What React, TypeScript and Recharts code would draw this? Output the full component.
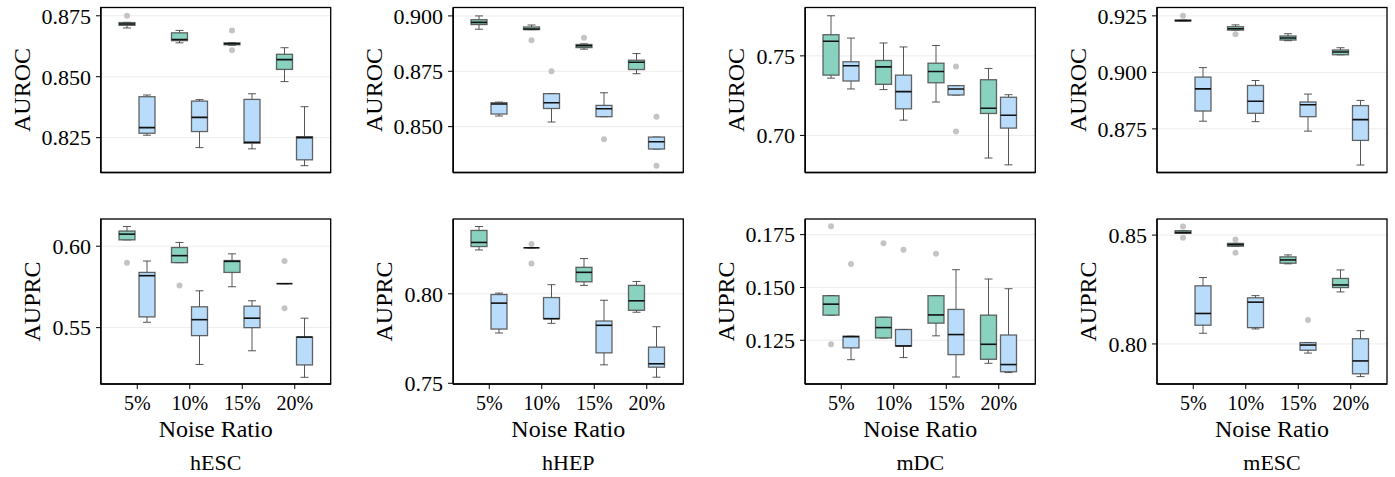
import {
  ComposedChart, Bar, XAxis, YAxis, CartesianGrid,
} from 'recharts';

type Box = number[]; // [whisker low, q1, median, q3, whisker high]

const FONT = '"Liberation Serif", "Times New Roman", serif';
const TEAL = '#89D2C0';
const BLUE = '#B9DCFA';

const categories = ['5%', '10%', '15%', '20%'];
const datasets = ['hESC', 'hHEP', 'mDC', 'mESC'];

// hESC
const hescAurocTeal: Box[] = [[0.8700, 0.8711, 0.8716, 0.8722, 0.8723], [0.8639, 0.8648, 0.8653, 0.8680, 0.8690], [0.8629, 0.8631, 0.8635, 0.8639, 0.8640], [0.8480, 0.8530, 0.8570, 0.8592, 0.8619]];
const hescAurocTealOut = [[0.8750], [], [0.8690, 0.8609], []];
const hescAurocBlue: Box[] = [[0.8260, 0.8268, 0.8291, 0.8418, 0.8425], [0.8209, 0.8275, 0.8333, 0.8400, 0.8406], [0.8204, 0.8227, 0.8231, 0.8407, 0.8430], [0.8135, 0.8159, 0.8250, 0.8254, 0.8377]];
const hescAurocBlueOut = [[], [], [], []];
const hescAuprcTeal: Box[] = [[0.6039, 0.6039, 0.6074, 0.6093, 0.6121], [0.5899, 0.5899, 0.5942, 0.5992, 0.6023], [0.5751, 0.5839, 0.5907, 0.5912, 0.5953], [0.5770, 0.5770, 0.5770, 0.5770, 0.5770]];
const hescAuprcTealOut = [[0.5899], [0.5759], [], [0.5909, 0.5619]];
const hescAuprcBlue: Box[] = [[0.5533, 0.5566, 0.5819, 0.5839, 0.5909], [0.5274, 0.5451, 0.5549, 0.5628, 0.5726], [0.5358, 0.5500, 0.5558, 0.5632, 0.5665], [0.5195, 0.5271, 0.5442, 0.5442, 0.5558]];
const hescAuprcBlueOut = [[], [], [], []];

// hHEP
const hhepAurocTeal: Box[] = [[0.8940, 0.8961, 0.8971, 0.8983, 0.9000], [0.8938, 0.8938, 0.8941, 0.8950, 0.8959], [0.8850, 0.8857, 0.8865, 0.8871, 0.8874], [0.8739, 0.8758, 0.8791, 0.8800, 0.8830]];
const hhepAurocTealOut = [[], [0.8890], [0.8901], []];
const hhepAurocBlue: Box[] = [[0.8548, 0.8557, 0.8602, 0.8608, 0.8611], [0.8521, 0.8582, 0.8608, 0.8649, 0.8649], [0.8545, 0.8545, 0.8581, 0.8596, 0.8653], [0.8399, 0.8399, 0.8432, 0.8453, 0.8453]];
const hhepAurocBlueOut = [[], [0.8750], [0.8443], [0.8545, 0.8324]];
const hhepAuprcTeal: Box[] = [[0.8245, 0.8264, 0.8287, 0.8354, 0.8376], [0.8257, 0.8257, 0.8257, 0.8257, 0.8257], [0.8047, 0.8067, 0.8120, 0.8148, 0.8197], [0.7897, 0.7908, 0.7961, 0.8047, 0.8069]];
const hhepAuprcTealOut = [[], [0.8279, 0.8169], [], []];
const hhepAuprcBlue: Box[] = [[0.7781, 0.7803, 0.7948, 0.7996, 0.8004], [0.7835, 0.7861, 0.7861, 0.7979, 0.8051], [0.7603, 0.7670, 0.7824, 0.7848, 0.7964], [0.7534, 0.7590, 0.7609, 0.7702, 0.7816]];
const hhepAuprcBlueOut = [[], [], [], []];

// mDC
const mdcAurocTeal: Box[] = [[0.7360, 0.7379, 0.7592, 0.7633, 0.7752], [0.7288, 0.7321, 0.7431, 0.7471, 0.7581], [0.7210, 0.7331, 0.7402, 0.7454, 0.7565], [0.6858, 0.7138, 0.7171, 0.7350, 0.7421]];
const mdcAurocTealOut = [[], [], [], []];
const mdcAurocBlue: Box[] = [[0.7292, 0.7342, 0.7438, 0.7463, 0.7612], [0.7096, 0.7167, 0.7275, 0.7379, 0.7556], [0.7254, 0.7254, 0.7292, 0.7313, 0.7313], [0.6815, 0.7046, 0.7127, 0.7240, 0.7256]];
const mdcAurocBlueOut = [[], [], [0.7433, 0.7025], []];
const mdcAuprcTeal: Box[] = [[0.1369, 0.1369, 0.1421, 0.1461, 0.1461], [0.1261, 0.1261, 0.1310, 0.1359, 0.1359], [0.1271, 0.1331, 0.1370, 0.1461, 0.1461], [0.1141, 0.1160, 0.1231, 0.1369, 0.1540]];
const mdcAuprcTealOut = [[0.1790, 0.1231], [0.1709], [0.1660], []];
const mdcAuprcBlue: Box[] = [[0.1158, 0.1214, 0.1267, 0.1269, 0.1269], [0.1168, 0.1223, 0.1223, 0.1301, 0.1301], [0.1076, 0.1182, 0.1277, 0.1396, 0.1584], [0.1097, 0.1101, 0.1135, 0.1275, 0.1494]];
const mdcAuprcBlueOut = [[0.1611], [0.1679], [], []];

// mESC
const mescAurocTeal: Box[] = [[0.9228, 0.9228, 0.9229, 0.9231, 0.9231], [0.9187, 0.9187, 0.9193, 0.9202, 0.9210], [0.9140, 0.9143, 0.9152, 0.9161, 0.9171], [0.9078, 0.9078, 0.9090, 0.9099, 0.9109]];
const mescAurocTealOut = [[0.9250], [0.9169], [], []];
const mescAurocBlue: Box[] = [[0.8784, 0.8829, 0.8927, 0.8979, 0.9021], [0.8782, 0.8819, 0.8872, 0.8942, 0.8964], [0.8740, 0.8804, 0.8857, 0.8869, 0.8904], [0.8590, 0.8699, 0.8791, 0.8853, 0.8876]];
const mescAurocBlueOut = [[], [], [], []];
const mescAuprcTeal: Box[] = [[0.8508, 0.8508, 0.8512, 0.8520, 0.8520], [0.8449, 0.8449, 0.8456, 0.8462, 0.8462], [0.8368, 0.8371, 0.8386, 0.8400, 0.8409], [0.8239, 0.8259, 0.8271, 0.8301, 0.8340]];
const mescAuprcTealOut = [[0.8540, 0.8488], [0.8480, 0.8419], [], []];
const mescAuprcBlue: Box[] = [[0.8049, 0.8086, 0.8140, 0.8267, 0.8305], [0.8069, 0.8075, 0.8192, 0.8212, 0.8222], [0.7958, 0.7971, 0.7995, 0.8006, 0.8006], [0.7850, 0.7863, 0.7922, 0.8024, 0.8061]];
const mescAuprcBlueOut = [[], [], [0.8110], []];

const panels = [
  { metric: 'AUROC', teal: hescAurocTeal, tealOut: hescAurocTealOut, blue: hescAurocBlue, blueOut: hescAurocBlueOut, domain: [0.8107, 0.8784], ticks: [0.825, 0.85, 0.875], dec: 3 },
  { metric: 'AUROC', teal: hhepAurocTeal, tealOut: hhepAurocTealOut, blue: hhepAurocBlue, blueOut: hhepAurocBlueOut, domain: [0.8293, 0.9038], ticks: [0.85, 0.875, 0.9], dec: 3 },
  { metric: 'AUROC', teal: mdcAurocTeal, tealOut: mdcAurocTealOut, blue: mdcAurocBlue, blueOut: mdcAurocBlueOut, domain: [0.6767, 0.7804], ticks: [0.7, 0.75], dec: 2 },
  { metric: 'AUROC', teal: mescAurocTeal, tealOut: mescAurocTealOut, blue: mescAurocBlue, blueOut: mescAurocBlueOut, domain: [0.8557, 0.9287], ticks: [0.875, 0.9, 0.925], dec: 3 },
  { metric: 'AUPRC', teal: hescAuprcTeal, tealOut: hescAuprcTealOut, blue: hescAuprcBlue, blueOut: hescAuprcBlueOut, domain: [0.5154, 0.6167], ticks: [0.55, 0.6], dec: 2 },
  { metric: 'AUPRC', teal: hhepAuprcTeal, tealOut: hhepAuprcTealOut, blue: hhepAuprcBlue, blueOut: hhepAuprcBlueOut, domain: [0.7496, 0.8418], ticks: [0.75, 0.8], dec: 2 },
  { metric: 'AUPRC', teal: mdcAuprcTeal, tealOut: mdcAuprcTealOut, blue: mdcAuprcBlue, blueOut: mdcAuprcBlueOut, domain: [0.1043, 0.1824], ticks: [0.125, 0.15, 0.175], dec: 3 },
  { metric: 'AUPRC', teal: mescAuprcTeal, tealOut: mescAuprcTealOut, blue: mescAuprcBlue, blueOut: mescAuprcBlueOut, domain: [0.7816, 0.8574], ticks: [0.8, 0.85], dec: 2 },
];

const PLOT_LEFTS = [100.7, 453.3, 805.3, 1157];
const PLOT_W = 230;
const PLOT_H = 165;
const ROW_TOPS = [7.5, 219];
const LW = 1.3;

function makeShape(kind: 'teal' | 'blue', fill: string) {
  return (props: any) => {
    const { x, y, width, height, payload } = props;
    const box: Box = payload[kind];
    const out: number[] = payload[kind + 'Out'];
    const [rLo, rHi] = payload[kind + 'Range'];
    const top = Math.min(y, y + height);
    const bot = Math.max(y, y + height);
    const span = rHi - rLo || 1;
    const py = (v: number) => top + ((rHi - v) / span) * (bot - top);
    const cx = x + width / 2;
    const [lo, q1, med, q3, hi] = box;
    const cap = width / 4;
    const wStroke = { stroke: '#3a3a3a', strokeWidth: 1, strokeOpacity: 0.85 };
    return (
      <g>
        {out.map((o, i) => (
          <circle key={i} cx={cx} cy={py(o)} r={3} fill="#c4c4c4" />
        ))}
        <line x1={cx} x2={cx} y1={py(hi)} y2={py(q3)} {...wStroke} />
        <line x1={cx} x2={cx} y1={py(q1)} y2={py(lo)} {...wStroke} />
        <line x1={cx - cap} x2={cx + cap} y1={py(hi)} y2={py(hi)} {...wStroke} />
        <line x1={cx - cap} x2={cx + cap} y1={py(lo)} y2={py(lo)} {...wStroke} />
        {q3 > q1 && (
          <rect x={x} y={py(q3)} width={width} height={py(q1) - py(q3)} fill={fill}
            stroke="#4a4a4a" strokeWidth={1.3} strokeOpacity={0.85} />
        )}
        <line x1={x} x2={x + width} y1={py(med)} y2={py(med)} stroke="#111" strokeWidth={1.6} />
      </g>
    );
  };
}

const tealShape = makeShape('teal', TEAL);
const blueShape = makeShape('blue', BLUE);

const range = (b: Box, o: number[]) => [Math.min(b[0], ...o), Math.max(b[4], ...o)];

function Panel({ idx }: { idx: number }) {
  const p = panels[idx];
  const row = Math.floor(idx / 4);
  const col = idx % 4;
  const bottomRow = row === 1;
  const data = categories.map((label, i) => ({
    label,
    teal: p.teal[i], tealOut: p.tealOut[i], tealRange: range(p.teal[i], p.tealOut[i]),
    blue: p.blue[i], blueOut: p.blueOut[i], blueRange: range(p.blue[i], p.blueOut[i]),
  }));
  const chartTop = row === 0 ? 0 : 212;
  const marginTop = ROW_TOPS[row] - chartTop;
  const height = marginTop + PLOT_H + 30 + 2;
  const left = PLOT_LEFTS[col] - 100;
  return (
    <div style={{ position: 'absolute', left, top: chartTop }}>
      <ComposedChart width={340} height={height} data={data}
        margin={{ top: marginTop, right: 10, bottom: 2, left: 0 }}>
        <CartesianGrid vertical={false} stroke="#ececec" />
        <XAxis dataKey="label" padding={{ left: 10, right: 10 }} height={30}
          tickSize={5} tickMargin={7} axisLine={{ stroke: '#000', strokeWidth: LW }}
          tickLine={{ stroke: '#000' }}
          tick={bottomRow ? { fontSize: 20, fill: '#000', fontFamily: FONT } : false} />
        <YAxis type="number" domain={p.domain} ticks={p.ticks} allowDataOverflow width={100}
          tickSize={5} tickMargin={5} tickFormatter={(v: number) => v.toFixed(p.dec)}
          axisLine={{ stroke: '#000', strokeWidth: LW }} tickLine={{ stroke: '#000' }}
          tick={{ fontSize: 22, fill: '#000', fontFamily: FONT }} />
        <Bar dataKey="tealRange" barSize={16} shape={tealShape} isAnimationActive={false} />
        <Bar dataKey="blueRange" barSize={16} shape={blueShape} isAnimationActive={false} />
      </ComposedChart>
    </div>
  );
}

export default function App() {
  return (
    <div style={{ position: 'absolute', left: 0, top: 0, width: 1395, height: 477, background: '#fff', overflow: 'hidden' }}>
      {panels.map((_, i) => <Panel key={i} idx={i} />)}
      <svg width={1395} height={477} style={{ position: 'absolute', left: 0, top: 0, pointerEvents: 'none' }}
        fontFamily={FONT} fill="#000">
        {panels.map((p, i) => {
          const row = Math.floor(i / 4);
          const col = i % 4;
          const off = p.ticks[p.ticks.length - 1].toFixed(p.dec).length >= 5 ? 71 : 61;
          const bx = PLOT_LEFTS[col] - off;
          const cy = ROW_TOPS[row] + PLOT_H / 2;
          return (
            <g key={i}>
              {/* frame around the plot area */}
              <rect x={PLOT_LEFTS[col]} y={ROW_TOPS[row]} width={PLOT_W} height={PLOT_H}
                fill="none" stroke="#000" strokeWidth={LW} />
              <text x={bx} y={cy} fontSize={24} textAnchor="middle"
                transform={`rotate(-90 ${bx} ${cy})`}>{p.metric}</text>
            </g>
          );
        })}
        {datasets.map((d, col) => {
          const cx = PLOT_LEFTS[col] + PLOT_W / 2;
          return (
            <g key={d}>
              <text x={cx} y={436.7} fontSize={24} textAnchor="middle">Noise Ratio</text>
              <text x={cx} y={470} fontSize={22} textAnchor="middle">{d}</text>
            </g>
          );
        })}
      </svg>
    </div>
  );
}
